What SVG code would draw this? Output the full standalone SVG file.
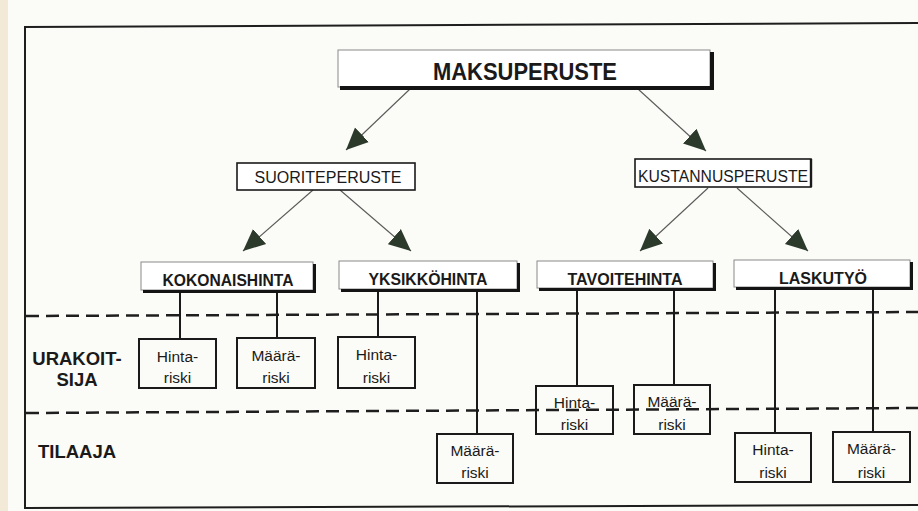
<svg xmlns="http://www.w3.org/2000/svg" width="918" height="511" viewBox="0 0 918 511">
  <defs>
    <marker id="arrow" markerUnits="userSpaceOnUse" markerWidth="24" markerHeight="22" viewBox="0 -11 24 22" refX="22" refY="0" orient="auto">
      <path d="M0,-10 L22,0 L0,10 Z" fill="#2c3a2b"/>
    </marker>
    <style>
      .bg { fill: #fbfbf7; }
      .frame { stroke: #1e1e1e; stroke-width: 2; fill: none; }
      .dash { stroke: #1e1e1e; stroke-width: 2.5; stroke-dasharray: 13 7; fill: none; }
      .arrow { stroke: #5a5a5a; stroke-width: 1.1; fill: none; marker-end: url(#arrow); }
      .stem { stroke: #1a1a1a; stroke-width: 2; fill: none; }
      .shadowbox { fill: #ffffff; stroke: #8a8a8a; stroke-width: 1; }
      .shadow { fill: #141414; }
      .plainbox { fill: #ffffff; stroke: #1a1a1a; stroke-width: 1.6; }
      .riskbox { fill: none; stroke: #1a1a1a; stroke-width: 2; }
      .bold { font-family: "Liberation Sans", Arial, sans-serif; font-weight: bold; fill: #1a1a1a; text-anchor: middle; }
      .reg { font-family: "Liberation Sans", Arial, sans-serif; fill: #1a1a1a; text-anchor: middle; }
      .risk { font-family: "Liberation Sans", Arial, sans-serif; font-size: 15.5px; fill: #1a1a1a; text-anchor: middle; }
      .row { font-family: "Liberation Sans", Arial, sans-serif; font-weight: bold; font-size: 18.5px; fill: #1a1a1a; text-anchor: middle; }
    </style>
  </defs>

  <!-- page -->
  <rect class="bg" x="0" y="0" width="918" height="511"/>
  <rect x="0" y="0" width="8" height="511" fill="#f2ead6"/>

  <!-- outer frame -->
  <g id="frame">
    <line class="frame" x1="24" y1="27" x2="918" y2="23"/>
    <line class="frame" x1="25" y1="26" x2="25" y2="509"/>
    <line class="frame" x1="24" y1="508" x2="918" y2="505"/>
  </g>

  <!-- zone separators -->
  <g id="separators">
    <line class="dash" x1="26" y1="316" x2="918" y2="312"/>
    <line class="dash" x1="26" y1="413" x2="918" y2="408"/>
  </g>

  <!-- connectors -->
  <g id="connectors">
    <line class="arrow" x1="410" y1="89" x2="346" y2="150"/>
    <line class="arrow" x1="638" y1="89" x2="706" y2="151"/>
    <line class="arrow" x1="313" y1="190" x2="243" y2="251"/>
    <line class="arrow" x1="340" y1="190" x2="411" y2="251"/>
    <line class="arrow" x1="708" y1="188" x2="640" y2="251"/>
    <line class="arrow" x1="737" y1="188" x2="808" y2="251"/>

    <line class="stem" x1="180" y1="292" x2="180" y2="339"/>
    <line class="stem" x1="277" y1="292" x2="277" y2="338"/>
    <line class="stem" x1="378" y1="291" x2="378" y2="337"/>
    <line class="stem" x1="477" y1="291" x2="477" y2="434"/>
    <line class="stem" x1="577" y1="290" x2="577" y2="386"/>
    <line class="stem" x1="674" y1="290" x2="674" y2="385"/>
    <line class="stem" x1="775" y1="289" x2="775" y2="433"/>
    <line class="stem" x1="873" y1="289" x2="873" y2="432"/>
  </g>

  <!-- top node -->
  <g id="maksuperuste">
    <rect class="shadowbox" x="338" y="50" width="372" height="37"/>
    <rect class="shadow" x="710" y="52" width="4" height="38"/>
    <rect class="shadow" x="340" y="86" width="374" height="4"/>
    <text class="bold" x="525" y="80" font-size="24" textLength="184" lengthAdjust="spacingAndGlyphs">MAKSUPERUSTE</text>
  </g>

  <!-- second level -->
  <g id="suoriteperuste">
    <rect class="plainbox" x="237" y="163" width="178" height="27"/>
    <text class="reg" x="328" y="182.5" font-size="16" textLength="147" lengthAdjust="spacingAndGlyphs">SUORITEPERUSTE</text>
  </g>
  <g id="kustannusperuste">
    <rect class="plainbox" x="635" y="159" width="176" height="28"/>
    <line x1="811" y1="159" x2="811" y2="187" stroke="#1a1a1a" stroke-width="2.4"/>
    <text class="reg" x="723" y="182" font-size="16" textLength="170" lengthAdjust="spacingAndGlyphs">KUSTANNUSPERUSTE</text>
  </g>

  <!-- contract types -->
  <g id="kokonaishinta">
    <rect class="shadowbox" x="141" y="262" width="172" height="28"/>
    <rect class="shadow" x="313" y="264" width="3" height="28"/>
    <rect class="shadow" x="143" y="290" width="173" height="3"/>
    <text class="bold" x="228" y="286" font-size="16.5" textLength="131" lengthAdjust="spacingAndGlyphs">KOKONAISHINTA</text>
  </g>
  <g id="yksikkohinta">
    <rect class="shadowbox" x="339" y="261" width="178" height="28"/>
    <rect class="shadow" x="517" y="263" width="3" height="28"/>
    <rect class="shadow" x="341" y="289" width="179" height="3"/>
    <text class="bold" x="428" y="285" font-size="16.5" textLength="119" lengthAdjust="spacingAndGlyphs">YKSIKKÖHINTA</text>
  </g>
  <g id="tavoitehinta">
    <rect class="shadowbox" x="537" y="261" width="176" height="27"/>
    <rect class="shadow" x="713" y="263" width="3" height="28"/>
    <rect class="shadow" x="539" y="288" width="177" height="3"/>
    <text class="bold" x="625" y="285" font-size="16.5" textLength="115" lengthAdjust="spacingAndGlyphs">TAVOITEHINTA</text>
  </g>
  <g id="laskutyo">
    <rect class="shadowbox" x="734" y="260" width="176" height="27"/>
    <rect class="shadow" x="910" y="262" width="3" height="28"/>
    <rect class="shadow" x="736" y="287" width="177" height="3"/>
    <text class="bold" x="823" y="284" font-size="16.5" textLength="88" lengthAdjust="spacingAndGlyphs">LASKUTYÖ</text>
  </g>

  <!-- row labels -->
  <g id="row-urakoitsija">
    <text class="row" x="77" y="365">URAKOIT-</text>
    <text class="row" x="77" y="386">SIJA</text>
  </g>
  <g id="row-tilaaja">
    <text class="row" x="77" y="458">TILAAJA</text>
  </g>

  <!-- risk boxes -->
  <g id="k-hintariski">
    <rect class="riskbox" x="139" y="339" width="77" height="49"/>
    <text class="risk" x="177.5" y="362">Hinta-</text>
    <text class="risk" x="177.5" y="383">riski</text>
  </g>
  <g id="k-maarariski">
    <rect class="riskbox" x="237" y="338" width="78" height="50"/>
    <text class="risk" x="276" y="361">Määrä-</text>
    <text class="risk" x="276" y="383">riski</text>
  </g>
  <g id="y-hintariski">
    <rect class="riskbox" x="338" y="337" width="77" height="51"/>
    <text class="risk" x="376.5" y="360">Hinta-</text>
    <text class="risk" x="376.5" y="383">riski</text>
  </g>
  <g id="y-maarariski">
    <rect class="riskbox" x="437" y="434" width="76" height="49"/>
    <text class="risk" x="475" y="456">Määrä-</text>
    <text class="risk" x="475" y="478">riski</text>
  </g>
  <g id="t-hintariski">
    <rect class="riskbox" x="536" y="386" width="77" height="48"/>
    <text class="risk" x="574.5" y="408">Hinta-</text>
    <text class="risk" x="574.5" y="430">riski</text>
  </g>
  <g id="t-maarariski">
    <rect class="riskbox" x="634" y="385" width="76" height="49"/>
    <text class="risk" x="672" y="407">Määrä-</text>
    <text class="risk" x="672" y="430">riski</text>
  </g>
  <g id="l-hintariski">
    <rect class="riskbox" x="735" y="433" width="76" height="49"/>
    <text class="risk" x="773" y="455">Hinta-</text>
    <text class="risk" x="773" y="478">riski</text>
  </g>
  <g id="l-maarariski">
    <rect class="riskbox" x="833" y="432" width="77" height="50"/>
    <text class="risk" x="871.5" y="454">Määrä-</text>
    <text class="risk" x="871.5" y="478">riski</text>
  </g>
</svg>
